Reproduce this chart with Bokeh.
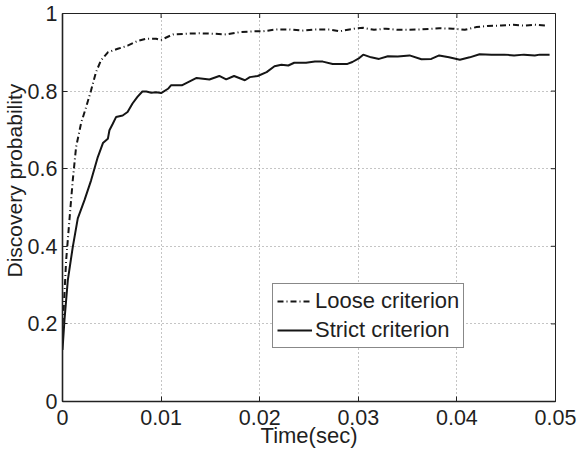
import math
from bokeh.plotting import figure
from bokeh.models import Range1d, FixedTicker, Legend, LegendItem, Title
from bokeh.embed import file_html
from bokeh.resources import INLINE

# ---- data ----
t_loose = [0.0, 0.00013, 0.00037, 0.0007, 0.00104, 0.00138, 0.00189, 0.0024, 0.0029, 0.0034,
           0.0039, 0.0046, 0.0056, 0.0066, 0.0076, 0.0085, 0.0095, 0.0100, 0.0112, 0.0126,
           0.0139, 0.0153, 0.0166, 0.0180, 0.0193, 0.0203, 0.0217, 0.0230, 0.0244, 0.0257,
           0.0271, 0.0281, 0.0291, 0.0296, 0.0305, 0.0316, 0.0328, 0.0340, 0.0352, 0.0364,
           0.0382, 0.0396, 0.0408, 0.0420, 0.0431, 0.0445, 0.0457, 0.0468, 0.0479, 0.0490]
loose = [0.20, 0.244, 0.364, 0.467, 0.570, 0.656, 0.718, 0.759, 0.802, 0.849,
         0.879, 0.900, 0.909, 0.917, 0.929, 0.935, 0.935, 0.932, 0.946, 0.948,
         0.949, 0.948, 0.946, 0.952, 0.954, 0.954, 0.959, 0.959, 0.956, 0.959,
         0.959, 0.954, 0.959, 0.961, 0.963, 0.958, 0.961, 0.958, 0.958, 0.959,
         0.962, 0.961, 0.958, 0.965, 0.968, 0.969, 0.971, 0.969, 0.971, 0.969]

t_strict = [0.0, 0.0002, 0.00054, 0.00104, 0.00155, 0.00223, 0.0029, 0.00358, 0.0041, 0.0046,
            0.00476, 0.0051, 0.00543, 0.0061, 0.0066, 0.0071, 0.0076, 0.0081, 0.0085, 0.0090,
            0.0095, 0.0100, 0.0107, 0.0110, 0.0121, 0.0136, 0.0149, 0.0159, 0.0166, 0.0174,
            0.0185, 0.0190, 0.0198, 0.0207, 0.0215, 0.0222, 0.0229, 0.0235, 0.0247, 0.0256,
            0.0264, 0.0274, 0.0289, 0.0294, 0.0301, 0.0305, 0.0313, 0.0321, 0.0330, 0.0340,
            0.0352, 0.0364, 0.0374, 0.0382, 0.0392, 0.0403, 0.0413, 0.0423, 0.0435, 0.0448,
            0.0458, 0.0468, 0.0479, 0.0484, 0.0494]
strict = [0.133, 0.21, 0.313, 0.398, 0.472, 0.519, 0.570, 0.630, 0.666, 0.677,
          0.699, 0.716, 0.733, 0.737, 0.746, 0.768, 0.785, 0.799, 0.799, 0.796,
          0.797, 0.795, 0.806, 0.815, 0.815, 0.834, 0.830, 0.839, 0.830, 0.839,
          0.828, 0.836, 0.839, 0.849, 0.864, 0.868, 0.866, 0.873, 0.873, 0.876,
          0.876, 0.870, 0.870, 0.875, 0.885, 0.894, 0.887, 0.883, 0.890, 0.889,
          0.892, 0.882, 0.883, 0.892, 0.887, 0.881, 0.887, 0.895, 0.894, 0.894,
          0.892, 0.894, 0.892, 0.894, 0.894]

x_ticks = [0.0, 0.01, 0.02, 0.03, 0.04, 0.05]
x_tick_labels = ["0", "0.01", "0.02", "0.03", "0.04", "0.05"]
y_ticks = [0.0, 0.2, 0.4, 0.6, 0.8, 1.0]
y_tick_labels = ["0", "0.2", "0.4", "0.6", "0.8", "1"]
series_names = ["Loose criterion", "Strict criterion"]
x_title = "Time(sec)"
y_title = "Discovery probability"

FONT = "Liberation Sans"
TXT = "#1f1f1f"
LINE = "#151515"

p = figure(width=578, height=450, output_backend="svg", toolbar_location=None,
           x_range=Range1d(x_ticks[0], x_ticks[-1]), y_range=Range1d(y_ticks[0], y_ticks[-1]),
           min_border_left=62, min_border_right=23, min_border_top=13, min_border_bottom=40)
p.background_fill_color = "white"
p.border_fill_color = "white"
p.outline_line_color = "#222222"
p.outline_line_width = 1

for ax, ticks, labels in ((p.xaxis[0], x_ticks, x_tick_labels), (p.yaxis[0], y_ticks, y_tick_labels)):
    ax.ticker = FixedTicker(ticks=ticks)
    ax.major_label_overrides = {tk: lb for tk, lb in zip(ticks, labels)}
    ax.minor_tick_line_color = None
    ax.major_tick_in = 5
    ax.major_tick_out = 0
    ax.axis_line_width = 1.6
    ax.axis_line_color = "#222222"
    ax.major_tick_line_color = "#222222"
    ax.major_label_text_font = FONT
    ax.major_label_text_font_size = "21.5px"
    ax.major_label_text_color = TXT
    ax.axis_label_text_font = FONT
    ax.axis_label_text_font_size = "22px"
    ax.axis_label_text_color = TXT
    ax.axis_label_text_font_style = "normal"

p.xaxis.axis_label = x_title
p.xaxis.major_label_standoff = 8
p.xaxis.axis_label_standoff = -5
p.yaxis.major_label_standoff = 5

# y-axis title, placed slightly above the frame centre as in the reference
p.add_layout(Title(text=y_title, align="left", offset=124, standoff=-3,
                   text_font=FONT, text_font_size="21px", text_color=TXT,
                   text_font_style="normal"), "left")

# mirrored inward tick marks on the top and right edges (clipped to the frame)
p.scatter(x=x_ticks, y=[y_ticks[-1]] * len(x_ticks), marker="dash", angle=math.pi / 2,
          size=9, line_color="#222222", line_width=1)
p.scatter(x=[x_ticks[-1]] * len(y_ticks), y=y_ticks, marker="dash",
          size=9, line_color="#222222", line_width=1)

for g in (p.xgrid[0], p.ygrid[0]):
    g.grid_line_color = "#8a8a8a"
    g.grid_line_dash = "1 3"
    g.grid_line_width = 1

r_loose = p.line(t_loose, loose, line_color=LINE, line_width=2, line_dash="6 3 1 3")
r_strict = p.line(t_strict, strict, line_color=LINE, line_width=2)

legend = Legend(items=[LegendItem(label=series_names[0], renderers=[r_loose]),
                       LegendItem(label=series_names[1], renderers=[r_strict])],
                location=(210, 53))
legend.label_text_font = FONT
legend.label_text_font_size = "22px"
legend.label_text_color = TXT
legend.glyph_width = 35
legend.glyph_height = 22
legend.label_height = 22
legend.label_standoff = 3
legend.padding = 4
legend.spacing = 3
legend.margin = 0
legend.border_line_color = "#111111"
legend.border_line_width = 1
legend.background_fill_alpha = 1
p.add_layout(legend, "center")

open("out.html", "w").write(file_html(p, INLINE))
